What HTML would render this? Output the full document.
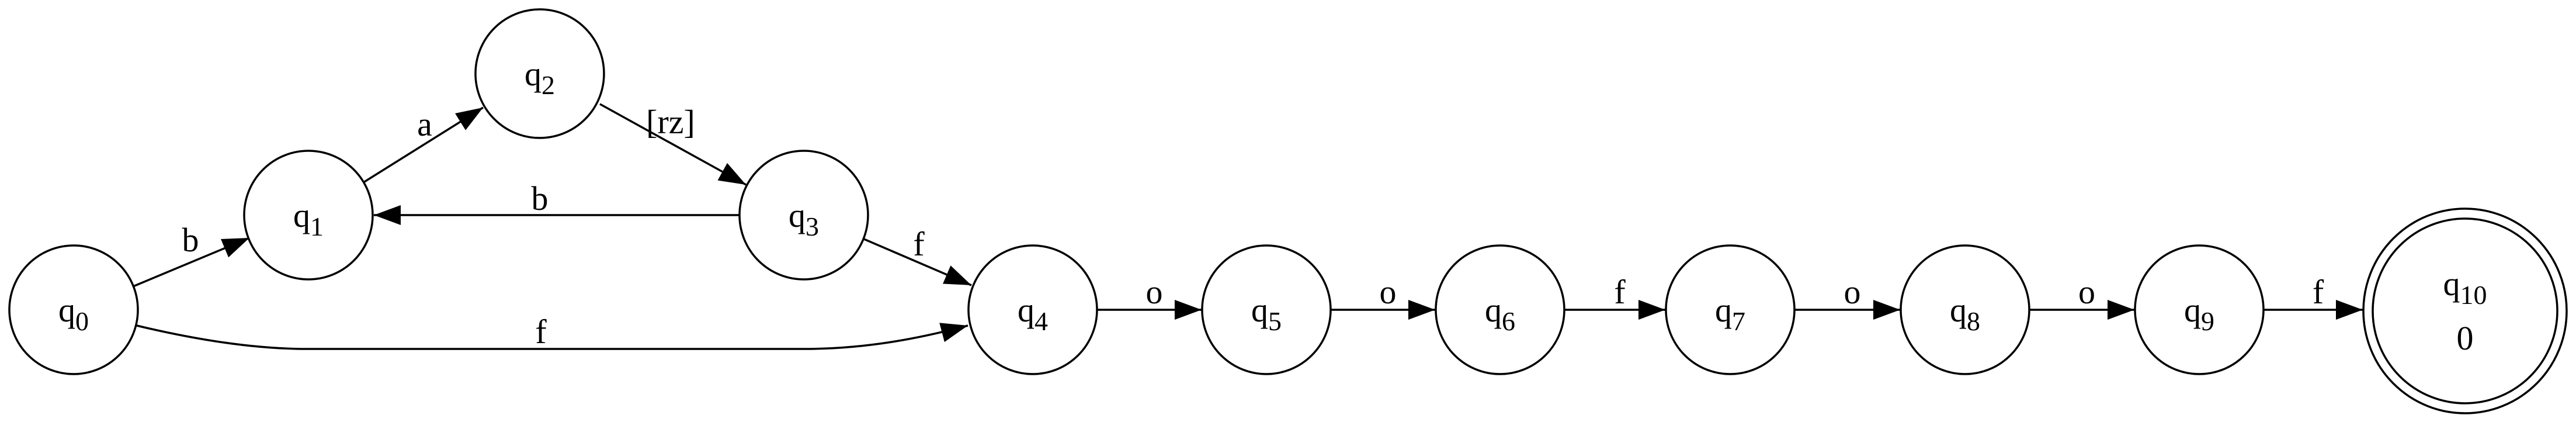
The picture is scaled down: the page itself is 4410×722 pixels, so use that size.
<!DOCTYPE html>
<html><head><meta charset="utf-8"><style>
html,body{margin:0;padding:0;background:#fff;}
svg{display:block;}
text{font-family:"Liberation Serif",serif;fill:#000;}
</style></head><body>
<svg id="g" width="4410" height="722" viewBox="0 0 4410 722">
<defs><marker id="ah" markerWidth="46" markerHeight="34" refX="46" refY="17" orient="auto" markerUnits="userSpaceOnUse"><path d="M0,0 L46,17 L0,34 Z" fill="#000"/></marker></defs>
</svg>
<script>
const nodeIds=[0,1,2,3,4,5,6,7,8,9];
const nodeX=[126,528,924,1376,1768,2168,2568,2962,3364,3765];
const nodeY=[530,368,126,368,530,530,530,530,530,530];
const svg=document.getElementById('g');
const NS='http://www.w3.org/2000/svg';
function mk(tag,attrs,parent){const e=document.createElementNS(NS,tag);for(const k in attrs)e.setAttribute(k,attrs[k]);(parent||svg).appendChild(e);return e;}
function label(x,y,sub,name){
  const t=mk('text',{x:x,y:y,'text-anchor':'middle','font-size':58});
  
  
  const a=mk('tspan',{},t);a.textContent='q';
  const b=mk('tspan',{'font-size':46,dy:15},t);b.textContent=sub;
  return t;
}
const edges=[
 ['M228,490 L427,407','b',326,430,'edge-q0-q1'],
 ['M624,311 L827,184','a',727,232,'edge-q1-q2'],
 ['M1027,178 L1277,316','[rz]',1148,228,'edge-q2-q3'],
 ['M1266,368 L640,368','b',924,359,'edge-q3-q1'],
 ['M1479,409 L1663,488','f',1573,437,'edge-q3-q4'],
 ['M234,557 C330,580 430,597 525,597 L1376,597 C1480,597 1570,580 1657,557','f',926,587,'edge-q0-q4']
];
const chainLabels=['o','o','f','o','o'];
for(const e of edges){
  const p=mk('path',{d:e[0],stroke:'#000','stroke-width':3.5,fill:'none','marker-end':'url(#ah)'});
  
  
  const t=mk('text',{x:e[2],y:e[3],'text-anchor':'middle','font-size':58});t.textContent=e[1];
  
  
}
for(let i=4;i<9;i++){
  const x1=nodeX[i]+111,x2=nodeX[i+1]-111;
  const p=mk('path',{d:`M${x1},530 L${x2},530`,stroke:'#000','stroke-width':3.5,fill:'none','marker-end':'url(#ah)'});
  
  
  const t=mk('text',{x:(x1+x2)/2+8,y:519,'text-anchor':'middle','font-size':58});t.textContent=chainLabels[i-4];
  
  
}
{
  const x1=nodeX[9]+111,x2=4220-175;
  const p=mk('path',{d:`M${x1},530 L${x2},530`,stroke:'#000','stroke-width':3.5,fill:'none','marker-end':'url(#ah)'});
  
  
  const t=mk('text',{x:(x1+x2)/2+8,y:519,'text-anchor':'middle','font-size':58});t.textContent='f';
  
  
}
for(let i=0;i<nodeIds.length;i++){
  const c=mk('circle',{cx:nodeX[i],cy:nodeY[i],r:110,fill:'#fff',stroke:'#000','stroke-width':3.5});
  
  
  label(nodeX[i],nodeY[i]+20,String(nodeIds[i]),'state-q'+nodeIds[i]+'-label');
}
const o=mk('ellipse',{cx:4220,cy:532,rx:174,ry:175,fill:'#fff',stroke:'#000','stroke-width':3.5});


const inn=mk('ellipse',{cx:4220,cy:532,rx:158,ry:158,fill:'none',stroke:'#000','stroke-width':3.5});


label(4220,505,'10','state-q10-label');
const z=mk('text',{x:4220,y:598,'text-anchor':'middle','font-size':58});z.textContent='0';


</script>
</body></html>
